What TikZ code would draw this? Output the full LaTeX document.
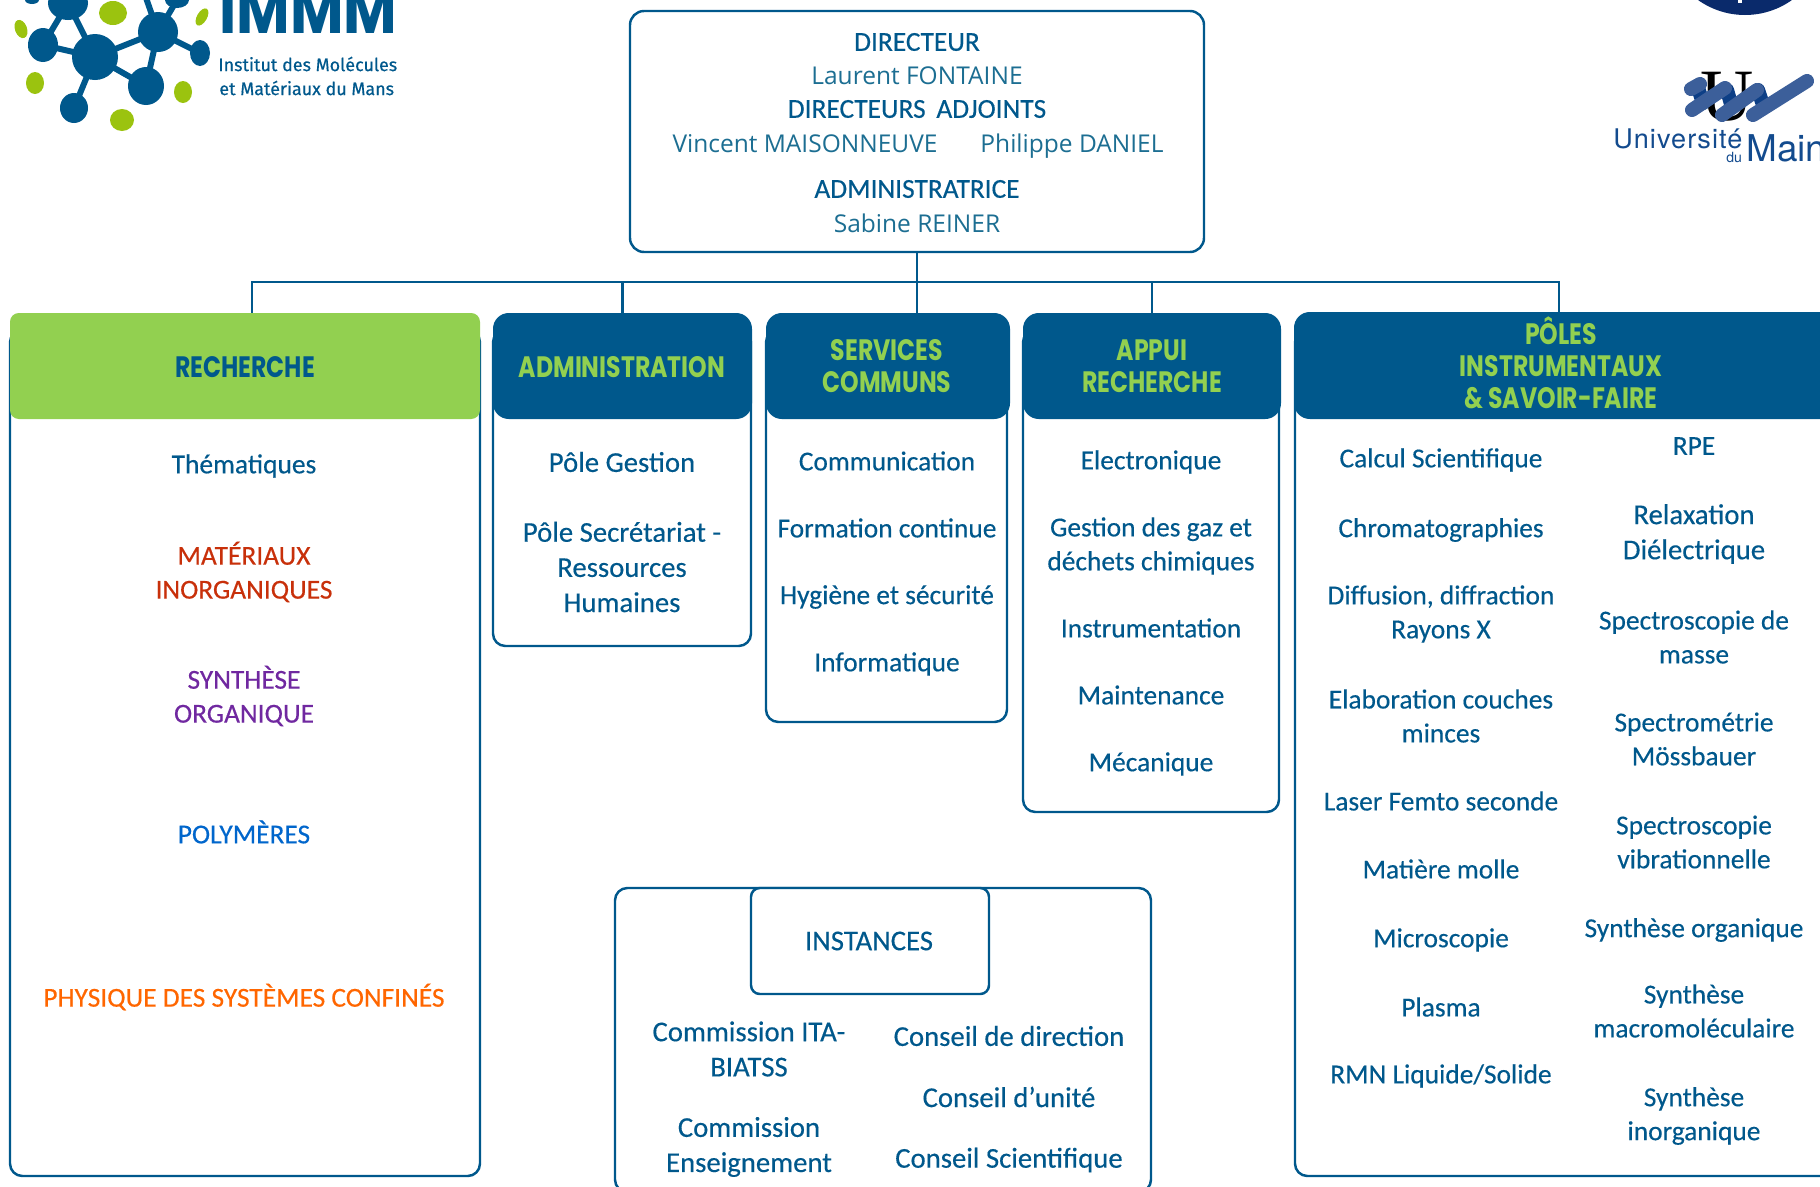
\documentclass[tikz,border=0pt]{standalone}
\usepackage{fontspec}
\usepackage{xcolor}
\usepackage{tikz}
\usetikzlibrary{fit}
\setmainfont[FakeBold=0.35]{Carlito}
\newfontfamily\headfont[FakeStretch=0.80]{Poppins}
\newfontfamily\namefont{Open Sans}
\newfontfamily\logofont[FakeBold=0.5]{Fira Sans}
\newfontfamily\unifont[LetterSpace=4]{TeX Gyre Heros}
\newfontfamily\mainefont{TeX Gyre Heros}
\newfontfamily\ufont{Liberation Serif}
\definecolor{immblue}{HTML}{00588C}
\definecolor{immgreen}{HTML}{92D050}
\definecolor{logogreen}{HTML}{9BC30F}
\definecolor{nametext}{HTML}{1C6E92}
\definecolor{mainblue}{HTML}{134B8E}
\definecolor{barblue}{HTML}{3C5F9A}
\definecolor{bardark}{HTML}{0D3F86}
\definecolor{navyseal}{HTML}{0A2A6B}
\definecolor{thinorg}{HTML}{C8300A}
\definecolor{thsynth}{HTML}{7028A0}
\definecolor{thpoly}{HTML}{0066CC}
\definecolor{thphys}{HTML}{FF6600}
\tikzset{
  panel/.style={draw=immblue, line width=1.4pt, rounded corners=7pt, inner sep=0pt, fill=white},
  headbox/.style={fill=immblue, rounded corners=9pt, inner sep=0pt},
  headtext/.style={text=immgreen, align=center, font=\headfont\bfseries\fontsize{16.8}{18.2}\selectfont},
  item/.style={text=immblue, align=center, font=\fontsize{15.6}{19.3}\selectfont},
  bigitem/.style={text=immblue, align=center, font=\fontsize{16.35}{20}\selectfont},
  person/.style={text=nametext, font=\namefont\fontsize{13.95}{16}\selectfont},
  chief/.style={text=immblue, font=\fontsize{15.6}{19}\selectfont},
  bond/.style={immblue, line width=3.4pt},
  ribbon/.style={barblue, line width=8pt, line cap=round},
  ribfold/.style={bardark, line width=8pt, line cap=round}
}
\begin{document}
\begin{tikzpicture}[x=0.02cm, y=-0.02cm]
  \useasboundingbox (0,0) rectangle (1820,1187);
  \clip (0,0) rectangle (1820,1187);

  % IMMM logo
  \foreach \xa/\ya/\xb/\yb in {95/57/158/32, 95/57/43/45, 95/57/68/3, 95/57/146/86, 95/57/74/108,
      158/32/200/53, 158/32/146/86, 158/32/177/0, 158/32/145/-5, 43/45/68/3}
    \draw[bond] (\xa,\ya) -- (\xb,\yb);
  \foreach \xc/\yc/\rx/\ry in {95/57/23/23, 158/32/20/20, 43/45/15/17, 68/3/20/17, 146/86/18/19,
      74/108/14/15, 200/53/10/13, 177/0/12/8, 32/0/7/4}
    \fill[immblue] (\xc,\yc) ellipse[x radius=\rx, y radius=\ry];
  \foreach \xc/\yc/\rx/\ry in {113/13/14/12, 35/83/9/11, 183/92/9/11, 122/120/12/11}
    \fill[logogreen] (\xc,\yc) ellipse[x radius=\rx, y radius=\ry];
  \fill[logogreen, rotate around={20:(21,29)}] (21,29) ellipse[x radius=6, y radius=9.5];
  \fill[logogreen, rotate around={-30:(202,17)}] (202,17) ellipse[x radius=5, y radius=9.5];
  \node[anchor=base west, inner sep=0pt, text=immblue, font=\headfont\bfseries\fontsize{41.5}{42}\selectfont] (immm) at (219,33) {IMMM};
  \node[anchor=west, inner sep=0pt, text=immblue, font=\logofont\fontsize{10.2}{12}\selectfont] (instituta) at (218,64) {Institut des Molécules};
  \node[anchor=west, inner sep=0pt, text=immblue, font=\logofont\fontsize{10.2}{12}\selectfont] (institutb) at (219,88) {et Matériaux du Mans};

  % Universite logos
  \fill[navyseal] (1745,-66) circle (81);
  \fill[white] (1738,0) rectangle (1742,3);
  \node[anchor=base, inner sep=0pt, text=black, font=\ufont\fontsize{42}{42}\selectfont] (ulogo) at (1727,120) {U};
  \draw[ribfold] (1698,88) -- (1703,103);
  \draw[ribfold] (1727,90) -- (1731,104);
  \draw[ribfold] (1758,90) -- (1762,102);
  \draw[ribbon] (1691,89) -- (1700,84);
  \draw[ribbon] (1692,110) -- (1725,88);
  \draw[ribbon] (1722,115) -- (1757,90);
  \draw[ribbon] (1753,115) -- (1807,81);
  \node[anchor=base west, inner sep=0pt, text=mainblue, font=\unifont\fontsize{15.4}{16}\selectfont] (univ) at (1613,148) {Université};
  \node[anchor=base west, inner sep=0pt, text=mainblue, font=\mainefont\fontsize{8}{9}\selectfont] (udu) at (1726,162) {du};
  \node[anchor=base west, inner sep=0pt, text=mainblue, font=\mainefont\fontsize{21}{22}\selectfont] (umain) at (1746,161) {Maine};

  % Direction
  \node[panel, rounded corners=8pt, fit={(630,11) (1204,252)}] (direction) {};
  \node[chief] (dirA) at (917,42) {DIRECTEUR};
  \node[person] (dirB) at (917,76) {Laurent FONTAINE};
  \node[chief] (dirD) at (917,109) {DIRECTEURS\, ADJOINTS};
  \node[person] (dirE) at (805,144) {Vincent MAISONNEUVE};
  \node[person] (dirF) at (1072,146) {Philippe DANIEL};
  \node[chief] (dirG) at (917,189) {ADMINISTRATRICE};
  \node[person] (dirH) at (917,223) {Sabine REINER};

  % Column bodies
  \node[panel, fit={(10,330) (480,1176)}] (rechbody) {};
  \node[panel, fit={(493,330) (751,646)}] (adminbody) {};
  \node[panel, fit={(766,330) (1007,722)}] (servbody) {};
  \node[panel, fit={(1023,330) (1279,812)}] (appuibody) {};
  \node[panel, fit={(1295,330) (1840,1176)}] (polebody) {};

  % Column headers
  \node[headbox, fill=immgreen, rounded corners=5pt, fit={(10,313) (480,419)}] (recherche) {};
  \node[headbox, fit={(493,313) (752,419)}] (admin) {};
  \node[headbox, fit={(766,313) (1010,419)}] (services) {};
  \node[headbox, fit={(1023,313) (1281,419)}] (appui) {};
  \node[headbox, fit={(1294,312) (1850,419)}] (poles) {};
  \node[headtext, text=immblue] (rechtext) at (245,367) {RECHERCHE};
  \node[headtext] (admintext) at (622,367) {ADMINISTRATION};
  \node[headtext] (servtext) at (887,366) {SERVICES\\COMMUNS};
  \node[headtext] (appuitext) at (1152,366) {APPUI\\RECHERCHE};
  \node[headtext] (poletext) at (1561,363) {PÔLES\\INSTRUMENTAUX\\\& SAVOIR-FAIRE};

  % Links
  \coordinate (busleft) at (252,282);
  \coordinate (busright) at (1559,282);
  \draw[immblue, line width=1.4pt] (direction.south) -- (direction.south |- services.north);
  \draw[immblue, line width=1.4pt] (recherche.north -| busleft) -- (busleft) -- (busright) -- (poles.north -| busright);
  \draw[immblue, line width=1.4pt] (admin.north) -- (admin.north |- busleft);
  \draw[immblue, line width=1.4pt] (appui.north) -- (appui.north |- busleft);

  % Recherche
  \node[item] (rech1) at (244,466) {Thématiques};
  \node[item, text=thinorg] (rech2) at (244,572) {MATÉRIAUX\\INORGANIQUES};
  \node[item, text=thsynth] (rech3) at (244,696) {SYNTHÈSE\\ORGANIQUE};
  \node[item, text=thpoly] (rech4) at (244,832) {POLYMÈRES};
  \node[item, text=thphys] (rech5) at (244,997) {PHYSIQUE DES SYSTÈMES CONFINÉS};

  % Administration
  \node[bigitem] (admin1) at (622,462) {Pôle Gestion};
  \node[bigitem] (admin2) at (622,567) {Pôle Secrétariat -\\Ressources\\Humaines};

  % Services communs
  \node[item] (serv1) at (887,461) {Communication};
  \node[item] (serv2) at (887,528) {Formation continue};
  \node[item] (serv3) at (887,597) {Hygiène et sécurité};
  \node[item] (serv4) at (887,664) {Informatique};

  % Appui recherche
  \node[item] (appui1) at (1151,462) {Electronique};
  \node[item] (appui2) at (1151,546) {Gestion des gaz et\\déchets chimiques};
  \node[item] (appui3) at (1151,628) {Instrumentation};
  \node[item] (appui4) at (1151,695) {Maintenance};
  \node[item] (appui5) at (1151,764) {Mécanique};

  % Poles, left column
  \node[item] (pole1) at (1441,460) {Calcul Scientifique};
  \node[item] (pole2) at (1441,530) {Chromatographies};
  \node[item] (pole3) at (1441,614) {Diffusion, diffraction\\Rayons X};
  \node[item] (pole4) at (1441,716) {Elaboration couches\\minces};
  \node[item] (pole5) at (1441,801) {Laser Femto seconde};
  \node[item] (pole6) at (1441,869) {Matière molle};
  \node[item] (pole7) at (1441,940) {Microscopie};
  \node[item] (pole8) at (1441,1007) {Plasma};
  \node[item] (pole9) at (1441,1076) {RMN Liquide/Solide};

  % Poles, right column
  \node[item] (pole10) at (1694,446) {RPE};
  \node[bigitem] (pole11) at (1694,534) {Relaxation\\Diélectrique};
  \node[item] (pole12) at (1694,637) {Spectroscopie de\\masse};
  \node[item] (pole13) at (1694,739) {Spectrométrie\\Mössbauer};
  \node[item] (pole14) at (1694,842) {Spectroscopie\\vibrationnelle};
  \node[item] (pole15) at (1694,930) {Synthèse organique};
  \node[item] (pole16) at (1694,1011) {Synthèse\\macromoléculaire};
  \node[item] (pole17) at (1694,1116) {Synthèse\\inorganique};

  % Instances
  \node[panel, fit={(615,888) (1151,1192)}] (instbody) {};
  \node[panel, rounded corners=5pt, fit={(751,888) (989,994)}] (instbox) {};
  \node[bigitem] (insttext) at (869,941) {INSTANCES};
  \node[bigitem] (inst1) at (749,1049) {Commission ITA-\\BIATSS};
  \node[bigitem] (inst2) at (749,1147) {Commission\\Enseignement};
  \node[bigitem] (inst3) at (1009,1036) {Conseil de direction};
  \node[bigitem] (inst4) at (1009,1097) {Conseil d’unité};
  \node[bigitem] (inst5) at (1009,1160) {Conseil Scientifique};
\end{tikzpicture}
\end{document}
